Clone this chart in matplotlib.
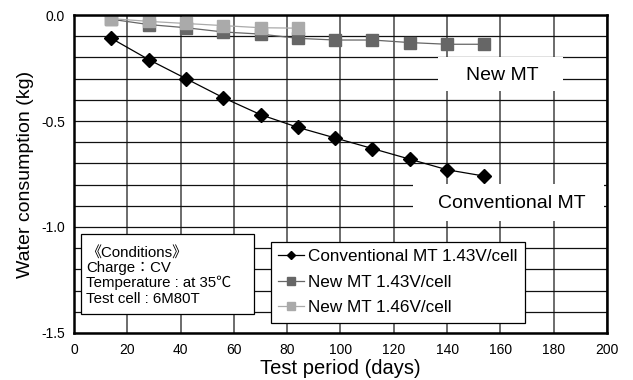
import matplotlib

matplotlib.use("Agg")

import matplotlib.pyplot as plt
from matplotlib.patches import Rectangle

plt.rcParams["font.family"] = ["Liberation Sans", "Noto Sans CJK JP", "DejaVu Sans"]

days = [14, 28, 42, 56, 70, 84, 98, 112, 126, 140, 154]
conventional_143 = [-0.11, -0.21, -0.30, -0.39, -0.47, -0.53, -0.58, -0.63, -0.68, -0.73, -0.76]
new_143 = [-0.02, -0.045, -0.06, -0.08, -0.09, -0.11, -0.118, -0.118, -0.13, -0.138, -0.138]
days_146 = [14, 28, 42, 56, 70, 84]
new_146 = [-0.017, -0.03, -0.04, -0.05, -0.06, -0.062]

conditions = "\u300aConditions\u300b\nCharge\uff1aCV\nTemperature : at 35\u2103\nTest cell : 6M80T"

fig = plt.figure(figsize=(6.33, 3.8), dpi=100)
ax = fig.add_axes([0.1169, 0.1237, 0.842, 0.8368])

ax.set_xlim(0, 200)
ax.set_ylim(-1.5, 0.0)
ax.set_xticks(range(0, 201, 20))
ax.set_yticks([-1.5, -1.0, -0.5, 0.0])
ax.set_yticks([i / 10 for i in range(-15, 1)], minor=True)
ax.set_yticklabels(["-1.5", "-1.0", "-0.5", "0.0"])
ax.tick_params(axis="both", which="both", length=0, labelsize=10)
ax.tick_params(axis="y", pad=6.5)
ax.tick_params(axis="x", pad=7)
ax.grid(axis="x", color="#444444", linewidth=1.1)
ax.grid(axis="y", which="both", color="#111111", linewidth=0.9)
ax.set_axisbelow(True)
for s in ax.spines.values():
    s.set_linewidth(1.8)
    s.set_zorder(6)

ax.plot(days, conventional_143, color="black", linewidth=0.9, marker="D", markersize=7,
        label="Conventional MT 1.43V/cell", zorder=3)
ax.plot(days, new_143, color="#666666", linewidth=0.9, marker="s", markersize=8.5,
        label="New MT 1.43V/cell", zorder=3)
ax.plot(days_146, new_146, color="#aaaaaa", linewidth=0.9, marker="s", markersize=8.5,
        label="New MT 1.46V/cell", zorder=4)

# label boxes that hide the grid
ax.add_patch(Rectangle((136.6, -0.358), 46.9, 0.16, facecolor="white", edgecolor="none", zorder=2))
ax.text(160.6, -0.283, "New MT", fontsize=14, ha="center", va="center", zorder=5)
ax.add_patch(Rectangle((127.2, -0.972), 71.5, 0.175, facecolor="white", edgecolor="none", zorder=2))
ax.text(164.4, -0.887, "Conventional MT", fontsize=14, ha="center", va="center", zorder=5)

ax.add_patch(Rectangle((0.013, 0.06), 0.325, 0.251, transform=ax.transAxes,
                       facecolor="white", edgecolor="black", linewidth=0.9, zorder=5))
ax.text(0.0225, 0.276, conditions, transform=ax.transAxes, fontsize=10.8, ha="left", va="top",
        linespacing=1.12, zorder=6)

leg = ax.legend(loc="upper left", bbox_to_anchor=(0.37, 0.286), borderaxespad=0, fontsize=12.3,
                fancybox=False, framealpha=1, edgecolor="black", markerscale=0.65,
                handlelength=1.5, handletextpad=0.25, labelspacing=0.62, borderpad=0.42)
leg.get_frame().set_linewidth(0.9)
leg.set_zorder(7)

ax.set_xlabel("Test period (days)", fontsize=14.5, labelpad=2)
ax.set_ylabel("Water consumption (kg)", fontsize=14, labelpad=5)

fig.savefig("out.png", dpi=100)
